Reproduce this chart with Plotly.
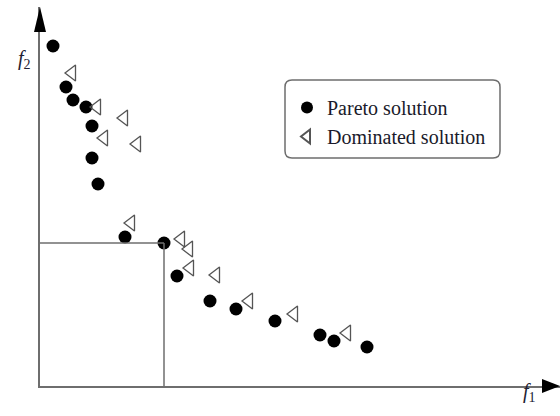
import plotly.graph_objects as go

# Objective values (f1, f2)
pareto_f1 = [0.13, 0.26, 0.33, 0.46, 0.52, 0.52, 0.58, 0.85, 1.24, 1.37, 1.70, 1.96, 2.35, 2.80, 2.94, 3.27]
pareto_f2 = [3.40, 2.99, 2.86, 2.79, 2.60, 2.28, 2.02, 1.49, 1.43, 1.10, 0.85, 0.77, 0.65, 0.51, 0.45, 0.39]

dominated_f1 = [0.32, 0.57, 0.84, 0.64, 0.97, 0.91, 1.41, 1.49, 1.50, 1.76, 2.09, 2.54, 3.07]
dominated_f2 = [3.13, 2.79, 2.68, 2.48, 2.42, 1.63, 1.47, 1.37, 1.18, 1.11, 0.85, 0.72, 0.53]

ref_f1, ref_f2 = 1.24, 1.43  # reference Pareto point defining the rectangle

series_names = ["Pareto solution", "Dominated solution"]
axis_labels = ["<i>f</i><sub>1</sub>", "<i>f</i><sub>2</sub>"]

AXIS_COLOR = "#6e6e6e"
SERIF = "Liberation Serif, Times New Roman, serif"

fig = go.Figure()
fig.add_trace(go.Scatter(
    x=pareto_f1, y=pareto_f2, mode="markers", name=series_names[0],
    marker=dict(symbol="circle", size=13, color="black"),
    cliponaxis=False,
))
fig.add_trace(go.Scatter(
    x=dominated_f1, y=dominated_f2, mode="markers", name=series_names[1],
    marker=dict(symbol="triangle-left-open", size=14, color="#555555",
                line=dict(width=1.3, color="#555555")),
    cliponaxis=False,
))

shapes = [
    dict(type="line", xref="x", yref="y", x0=0, x1=ref_f1, y0=ref_f2, y1=ref_f2,
         line=dict(color=AXIS_COLOR, width=1.5)),
    dict(type="line", xref="x", yref="y", x0=ref_f1, x1=ref_f1, y0=ref_f2, y1=0,
         line=dict(color=AXIS_COLOR, width=1.5)),
    # arrow heads
    dict(type="path", xref="paper", yref="paper", xsizemode="pixel", ysizemode="pixel",
         xanchor=1, yanchor=0, path="M -18,-7 L 0,0 L -18,7 Z",
         fillcolor="black", line=dict(width=0)),
    dict(type="path", xref="paper", yref="paper", xsizemode="pixel", ysizemode="pixel",
         xanchor=0, yanchor=1, path="M -6,-25 L 0,0 L 6,-25 Z",
         fillcolor="black", line=dict(width=0)),
    # rounded legend box
    dict(type="path", xref="paper", yref="paper", xsizemode="pixel", ysizemode="pixel",
         xanchor=(285 - 40) / 520, yanchor=(386 - 80) / 379,
         path="M 7,0 L 208,0 Q 215,0 215,-7 L 215,-71 Q 215,-78 208,-78 L 7,-78 Q 0,-78 0,-71 L 0,-7 Q 0,0 7,0 Z",
         fillcolor="rgba(0,0,0,0)", line=dict(color=AXIS_COLOR, width=1.5)),
]

fig.update_layout(
    width=560, height=416,
    margin=dict(l=40, r=0, t=7, b=30),
    paper_bgcolor="white", plot_bgcolor="white",
    showlegend=True,
    legend=dict(x=(287 - 40) / 520, y=(386 - 88) / 379, xanchor="left", yanchor="top",
                bgcolor="rgba(0,0,0,0)", borderwidth=0,
                font=dict(family=SERIF, size=20, color="#1a1a2a"),
                tracegroupgap=0, itemsizing="constant"),
    xaxis=dict(range=[0, 5.2], showline=True, linecolor=AXIS_COLOR, linewidth=2,
               showgrid=False, zeroline=False, showticklabels=False, ticks=""),
    yaxis=dict(range=[0, 3.79], showline=True, linecolor=AXIS_COLOR, linewidth=2,
               showgrid=False, zeroline=False, showticklabels=False, ticks=""),
    shapes=shapes,
    annotations=[
        dict(text=axis_labels[0], xref="paper", yref="paper", x=(538 - 40) / 520,
             y=(386 - 407) / 379, showarrow=False,
             font=dict(family=SERIF, size=20, color="#223")),
        dict(text=axis_labels[1], xref="paper", yref="paper", x=(16 - 40) / 520,
             y=(386 - 45) / 379, showarrow=False,
             font=dict(family=SERIF, size=20, color="#223")),
    ],
)

fig.write_html("out.html", config={"displayModeBar": False},
               post_script="document.body.style.margin='0';")
